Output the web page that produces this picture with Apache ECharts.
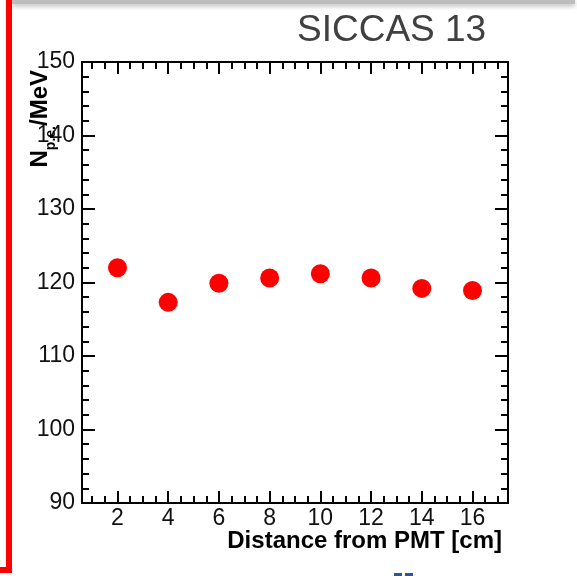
<!DOCTYPE html>
<html>
<head>
<meta charset="utf-8">
<script src="https://cdn.jsdelivr.net/npm/echarts@6/dist/echarts.min.js"></script>
<style>
html,body{margin:0;padding:0;background:#fff;}
#chart{width:577px;height:576px;}
</style>
</head>
<body>
<div id="chart"></div>
<script>
const distances = [2, 4, 6, 8, 10, 12, 14, 16];
const npePerMeV = [122.0, 117.3, 119.9, 120.6, 121.2, 120.6, 119.2, 118.9];
const xMajorTicks = [2, 4, 6, 8, 10, 12, 14, 16];
const xMinorTicks = [1, 1.5, 2.5, 3, 3.5, 4.5, 5, 5.5, 6.5, 7, 7.5, 8.5, 9, 9.5, 10.5, 11, 11.5, 12.5, 13, 13.5, 14.5, 15, 15.5, 16.5, 17];
const xRange = [0.6, 17.4];
const yRange = [90, 150];
const yStep = 10;
const titleText = 'SICCAS 13';
const xTitle = 'Distance from PMT [cm]';

const FONT = '"Liberation Sans", Arial, sans-serif';
const axisLine = {show: true, onZero: false, lineStyle: {color: '#000', width: 2}};
const tickStyle = {color: '#000', width: 2};
const labelStyle = {fontSize: 23, color: '#111', fontFamily: FONT};

function xAxisDef(position, ticks, len, labels) {
  return {
    type: 'value', position: position, min: xRange[0], max: xRange[1],
    axisLine: axisLine,
    splitLine: {show: false},
    axisTick: {show: true, inside: true, length: len, customValues: ticks, lineStyle: tickStyle},
    axisLabel: labels ? Object.assign({show: true, customValues: ticks, margin: 4}, labelStyle) : {show: false}
  };
}
function yAxisDef(position, labels) {
  return {
    type: 'value', position: position, min: yRange[0], max: yRange[1], interval: yStep,
    axisLine: axisLine,
    splitLine: {show: false},
    axisTick: {show: true, inside: true, length: 13, lineStyle: tickStyle},
    minorTick: {show: true, splitNumber: 5, length: 7, lineStyle: tickStyle},
    axisLabel: labels ? Object.assign({show: true, margin: 7}, labelStyle) : {show: false}
  };
}

const chart = echarts.init(document.getElementById('chart'), null, {renderer: 'canvas'});
chart.setOption({
  animation: false,
  backgroundColor: '#fff',
  title: {
    text: titleText, left: 292, top: 7,
    textStyle: {fontSize: 37, fontWeight: 'normal', color: '#404040', fontFamily: FONT}
  },
  grid: {left: 82, top: 62, right: 69, bottom: 73, containLabel: false},
  xAxis: [
    xAxisDef('bottom', xMajorTicks, 12, true),
    xAxisDef('bottom', xMinorTicks, 7, false),
    xAxisDef('top', xMajorTicks, 12, false),
    xAxisDef('top', xMinorTicks, 7, false)
  ],
  yAxis: [
    yAxisDef('left', true),
    yAxisDef('right', false)
  ],
  series: [{
    type: 'scatter', xAxisIndex: 0, yAxisIndex: 0,
    symbol: 'circle', symbolSize: 19,
    itemStyle: {color: '#ff0000', opacity: 1},
    data: distances.map((d, i) => [d, npePerMeV[i]])
  }],
  graphic: [
    {type: 'rect', z: 10, shape: {x: 12, y: 0, width: 563, height: 4},
     style: {fill: '#bdbdbd', shadowBlur: 5, shadowColor: 'rgba(0,0,0,0.3)', shadowOffsetY: 2}},
    {type: 'rect', z: 11, shape: {x: -30, y: -30, width: 39, height: 600},
     style: {fill: 'none', stroke: '#ff0000', lineWidth: 6}},
    {type: 'rect', z: 10, shape: {x: 394, y: 573, width: 8, height: 3}, style: {fill: '#2f5597'}},
    {type: 'rect', z: 10, shape: {x: 405, y: 573, width: 8, height: 3}, style: {fill: '#2f5597'}},
    {type: 'text', z: 10, x: 502, y: 529,
     style: {text: xTitle, align: 'right', verticalAlign: 'top', fontSize: 24, fontWeight: 'bold', fontFamily: FONT, fill: '#000'}},
    {type: 'text', z: 10, x: 28, y: 70, rotation: Math.PI / 2,
     style: {
       text: '{n|N}{s|p.e.}{n|/MeV}', align: 'right', verticalAlign: 'top',
       rich: {
         n: {fontSize: 24, fontWeight: 'bold', fontFamily: FONT, fill: '#000', lineHeight: 30, verticalAlign: 'top'},
         s: {fontSize: 14, fontWeight: 'bold', fontFamily: FONT, fill: '#000', lineHeight: 30, verticalAlign: 'bottom'}
       }
     }}
  ]
});
</script>
</body>
</html>
